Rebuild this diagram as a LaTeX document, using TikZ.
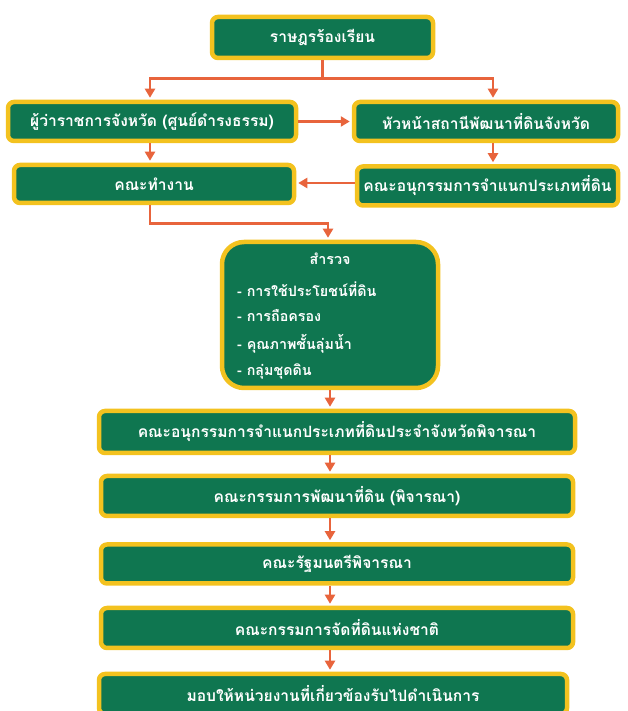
\documentclass[tikz,border=0pt]{standalone}
\usepackage{fontspec}
\newfontfamily\thai[Script=Thai]{Loma}
\usetikzlibrary{arrows.meta}
\definecolor{boxgreen}{HTML}{0F7650}
\definecolor{boxgold}{HTML}{F3C21F}
\definecolor{arrowred}{HTML}{E8643C}
\begin{document}
\begin{tikzpicture}[x=1pt,y=1pt,
 box/.style={draw=boxgold, line width=4.5pt, fill=boxgreen, rounded corners=6pt, text=white, font=\thai\bfseries\fontsize{15.6}{18}\selectfont, inner sep=0pt},
 txt/.style={text=white, font=\thai\bfseries\fontsize{14.3}{17}\selectfont, inner sep=0pt},
 arr/.style={draw=arrowred, line width=2.6pt, -{Triangle[length=9pt,width=10pt]}, shorten >=2pt},
 ln/.style={draw=arrowred, line width=2.6pt},
 ]
\useasboundingbox (0,0) rectangle (627,711);
\clip (0,0) rectangle (627,711);
\node[box, minimum width=221, minimum height=41] (top) at (322.5,673.5) {ราษฎรร้องเรียน};
\node[box, minimum width=288, minimum height=39] (l1) at (152,589.5) {ผู้ว่าราชการจังหวัด (ศูนย์ดำรงธรรม)};
\node[box, minimum width=264, minimum height=39] (r1) at (486,589.5) {หัวหน้าสถานีพัฒนาที่ดินจังหวัด};
\node[box, minimum width=280, minimum height=38] (l2) at (154,527) {คณะทำงาน};
\node[box, minimum width=261, minimum height=39] (r2) at (487.5,525) {คณะอนุกรรมการจำแนกประเภทที่ดิน};
\node[box, rounded corners=22pt, minimum width=216, minimum height=146] (sv) at (330,396) {};
\node[txt] (sv0) at (330,452) {สำรวจ};
\node[txt, anchor=west] (sv1) at (237,422) {- การใช้ประโยชน์ที่ดิน};
\node[txt, anchor=west] (sv2) at (237,395) {- การถือครอง};
\node[txt, anchor=west] (sv3) at (237,367) {- คุณภาพชั้นลุ่มน้ำ};
\node[txt, anchor=west] (sv4) at (237,339) {- กลุ่มชุดดิน};
\node[box, minimum width=476, minimum height=42] (a) at (337,279) {คณะอนุกรรมการจำแนกประเภทที่ดินประจำจังหวัดพิจารณา};
\node[box, minimum width=472, minimum height=40] (b) at (337,215) {คณะกรรมการพัฒนาที่ดิน (พิจารณา)};
\node[box, minimum width=472, minimum height=39] (c) at (337,147) {คณะรัฐมนตรีพิจารณา};
\node[box, minimum width=472, minimum height=40] (d) at (337,83) {คณะกรรมการจัดที่ดินแห่งชาติ};
\node[box, minimum width=468, minimum height=40] (e) at (333,17) {มอบให้หน่วยงานที่เกี่ยวข้องรับไปดำเนินการ};
% connectors
\draw[ln] (top.south) -- ++(0,-18) coordinate (split);
\draw[arr] (split) -| (l1.north -| 150,0);
\draw[arr] (split) -| (r1.north -| 493,0);
\draw[arr] (l1.east) -- (r1.west);
\draw[arr] (l1.south -| 150,0) -- (l2.north -| 150,0);
\draw[arr] (r1.south -| 493,0) -- (r2.north -| 493,0);
\draw[arr] (r2.west |- 0,528) -- (l2.east |- 0,528);
\draw[arr] (l2.south -| 150,0) -- ++(0,-18) -| (sv.north -| 328,0);
\draw[arr] (sv.south -| 330,0) -- (a.north -| 330,0);
\draw[arr] (a.south -| 330,0) -- (b.north -| 330,0);
\draw[arr] (b.south -| 330,0) -- (c.north -| 330,0);
\draw[arr] (c.south -| 330,0) -- (d.north -| 330,0);
\draw[arr] (d.south -| 330,0) -- (e.north -| 330,0);
\end{tikzpicture}
\end{document}
